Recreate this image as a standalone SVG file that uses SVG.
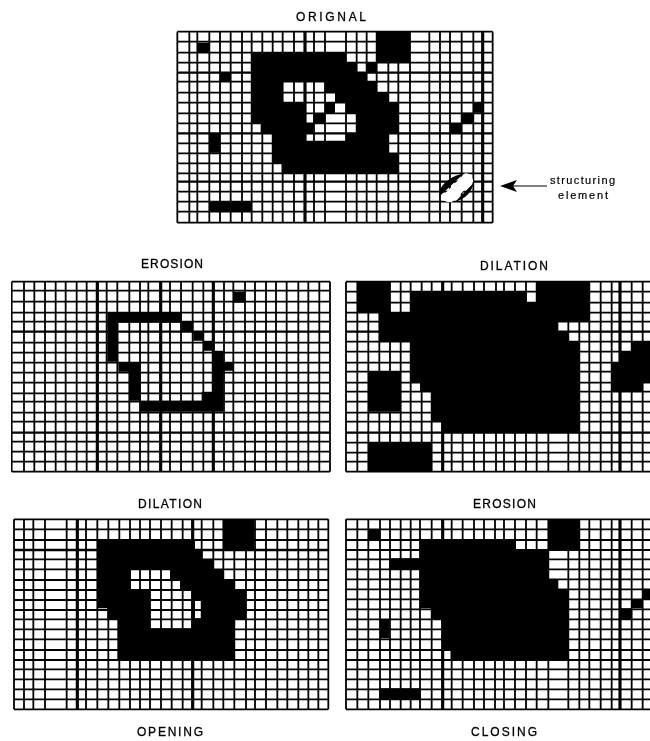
<svg xmlns="http://www.w3.org/2000/svg" width="650" height="741" viewBox="0 0 650 741">
<style>
.g{fill:none;stroke:#000;stroke-width:5.4}
.h{fill:none;stroke:#000;stroke-width:7}
.t{fill:none;stroke:#000;stroke-width:9.5}
.b{fill:#000;fill-rule:evenodd;stroke:none}
.w{fill:#fff;stroke:none}
text{font-family:"Liberation Sans",Arial,sans-serif;font-size:12px;fill:#000;text-anchor:start;stroke:#000;stroke-width:.3}
.s{font-size:11px;stroke-width:.2}
</style>
<defs><filter id="soft" x="0" y="0" width="100%" height="100%" filterUnits="objectBoundingBox"><feGaussianBlur stdDeviation="0.4"/></filter></defs>
<rect width="650" height="741" fill="#fff"/>
<g filter="url(#soft)">
<g id="original" transform="translate(170 0) scale(.33333)">
<path class="g" d="M22 95H968M22 125H968M22 158H968M22 188H968M22 245H968M22 278H968M22 308H968M22 340H968M22 370H968M22 430H968M22 460H968M22 490H968M22 520H968M22 575H968M22 605H968M22 635H968M22 668H968"/>
<path class="h" d="M22 218H968M22 400H968M22 545H968"/>
<path class="g" d="M22 95V668M58 95V668M82 95V668M118 95V668M150 95V668M182 95V668M216 95V668M245 95V668M277 95V668M308 95V668M338 95V668M372 95V668M432 95V668M465 95V668M528 95V668M560 95V668M590 95V668M620 95V668M655 95V668M685 95V668M720 95V668M778 95V668M810 95V668M840 95V668M875 95V668M910 95V668M968 95V668"/>
<path class="t" d="M405 95V668M938 95V668"/>
<path class="b" d="M245 158H528V188H560V218H590V245H620V278H655V308H685V400H655V460H685V520H335V490H308V400H272V370H245Z
M338 245H465V278H338Z M338 278H495V308H338Z M405 308H465V340H405Z M495 308H528V340H495Z M405 340H430V370H405Z M465 340H560V370H465Z M430 370H560V400H430Z M405 400H528V422H405Z"/>
<path class="b" d="M620 95H720V188H620ZM590 188H620V218H590ZM82 128H118V158H82ZM150 218H182V245H150ZM118 400H150V458H118ZM118 605H245V635H118ZM910 308H935V338H910ZM875 338H910V370H875ZM840 370H875V400H840Z"/>
<path class="w" d="M815 590L885 520Q905 518 910 545L845 607Q818 607 815 590Z"/>
<path class="b" d="M808 572Q828 532 882 520L812 586ZM910 550Q904 590 855 606Z"/>
</g>
<g id="erosion-1" transform="translate(0 250) scale(.33333)">
<path class="g" d="M35 95H990M35 122H990M35 155H990M35 188H990M35 215H990M35 278H990M35 308H990M35 338H990M35 368H990M35 398H990M35 430H990M35 455H990M35 488H990M35 515H990M35 575H990M35 605H990M35 635H990M35 665H990"/>
<path class="h" d="M35 245H990M35 548H990"/>
<path class="g" d="M35 95V665M72 95V665M103 95V665M135 95V665M167 95V665M197 95V665M230 95V665M260 95V665M320 95V665M352 95V665M388 95V665M420 95V665M445 95V665M510 95V665M543 95V665M578 95V665M610 95V665M672 95V665M700 95V665M735 95V665M765 95V665M798 95V665M828 95V665M860 95V665M895 95V665M925 95V665M958 95V665M990 95V665"/>
<path class="t" d="M292 95V665M482 95V665M640 95V665"/>
<path class="b" d="M322 188H545V215H580V245H610V272H640V302H670V338H700V362H670V485H422V452H388V365H355V335H322Z
M355 218H545V245H580V272H610V302H640V425H605V452H422V338H355Z"/>
<path class="b" d="M700 125H735V158H700Z"/>
</g>
<g id="dilation-1" transform="translate(340 250) scale(.33333)">
<path class="g" d="M18 95H930M18 125H930M18 158H930M18 188H930M18 215H930M18 275H930M18 305H930M18 338H930M18 365H930M18 398H930M18 425H930M18 455H930M18 488H930M18 515H930M18 578H930M18 608H930M18 635H930M18 665H930"/>
<path class="h" d="M18 245H930M18 548H930"/>
<path class="g" d="M18 95V665M52 95V665M85 95V665M118 95V665M150 95V665M182 95V665M212 95V665M245 95V665M275 95V665M335 95V665M368 95V665M402 95V665M432 95V665M468 95V665M492 95V665M525 95V665M558 95V665M590 95V665M625 95V665M685 95V665M718 95V665M748 95V665M782 95V665M815 95V665M875 95V665M908 95V665M940 95V665"/>
<path class="t" d="M308 95V665M840 95V665"/>
<path class="b" d="M52 95H150V188H212V125H560V158H590V95H748V215H655V245H685V275H718V548H305V515H275V425H240V398H212V275H118V188H52Z"/>
<path class="b" d="M85 365H182V485H85ZM85 578H275V665H85ZM875 275H940V398H908V425H815V338H840V305H875Z"/>
</g>
<g id="dilation-2" transform="translate(0 490) scale(.33333)">
<path class="g" d="M42 88H985M42 118H985M42 150H985M42 208H985M42 238H985M42 270H985M42 300H985M42 330H985M42 360H985M42 388H985M42 418H985M42 448H985M42 480H985M42 510H985M42 538H985M42 568H985M42 598H985M42 628H985M42 658H985"/>
<path class="h" d="M42 180H985"/>
<path class="g" d="M42 88V658M72 88V658M100 88V658M135 88V658M200 88V658M258 88V658M292 88V658M325 88V658M358 88V658M390 88V658M420 88V658M450 88V658M483 88V658M515 88V658M548 88V658M605 88V658M640 88V658M670 88V658M703 88V658M738 88V658M765 88V658M798 88V658M832 88V658M862 88V658M895 88V658M925 88V658M955 88V658M985 88V658"/>
<path class="t" d="M232 88V658M578 88V658"/>
<path class="b" d="M292 150H585V180H608V208H642V238H672V268H705V300H738V388H705V508H352V388H322V355H292Z
M392 240H510V268H392Z M392 268H540V298H392Z M450 298H575V388H450Z M585 330H605V385H585Z M450 388H575V415H450Z"/>
<path class="b" d="M670 88H762V178H670Z"/>
</g>
<g id="erosion-2" transform="translate(340 490) scale(.33333)">
<path class="g" d="M18 88H930M18 118H930M18 150H930M18 180H930M18 208H930M18 238H930M18 268H930M18 298H930M18 328H930M18 358H930M18 388H930M18 418H930M18 448H930M18 480H930M18 510H930M18 538H930M18 568H930M18 598H930M18 628H930M18 658H930"/>
<path class="g" d="M18 88V658M52 88V658M85 88V658M120 88V658M150 88V658M182 88V658M212 88V658M240 88V658M275 88V658M335 88V658M368 88V658M402 88V658M432 88V658M465 88V658M492 88V658M525 88V658M558 88V658M590 88V658M625 88V658M685 88V658M718 88V658M748 88V658M782 88V658M815 88V658M875 88V658M908 88V658M940 88V658"/>
<path class="t" d="M308 88V658M840 88V658"/>
<path class="b" d="M240 150H528V178H625V268H655V298H685V510H332V480H308V388H275V355H240V238H148V205H240Z"/>
<path class="b" d="M85 118H120V150H85ZM625 88H718V178H625ZM120 388H148V445H120ZM118 595H242V628H118ZM840 355H875V388H840ZM875 328H908V355H875ZM908 298H940V330H908Z"/>
</g>
<g id="connectors">
<path d="M510 186H547" fill="none" stroke="#000" stroke-width="1.2"/>
<path d="M500 186L517 180L513 186L517 192Z" fill="#000"/>
</g>
<g id="labels">
<text x="296" y="21" textLength="70" lengthAdjust="spacing">ORIGNAL</text>
<text x="141" y="268" textLength="62" lengthAdjust="spacing">EROSION</text>
<text x="480" y="270" textLength="68" lengthAdjust="spacing">DILATION</text>
<text x="138" y="508" textLength="64" lengthAdjust="spacing">DILATION</text>
<text x="473" y="508" textLength="63" lengthAdjust="spacing">EROSION</text>
<text x="137" y="736" textLength="66" lengthAdjust="spacing">OPENING</text>
<text x="471" y="736" textLength="66" lengthAdjust="spacing">CLOSING</text>
<text class="s" x="550" y="184" textLength="65" lengthAdjust="spacing">structuring</text>
<text class="s" x="558" y="199" textLength="50" lengthAdjust="spacing">element</text>
</g>
</g>
</svg>
